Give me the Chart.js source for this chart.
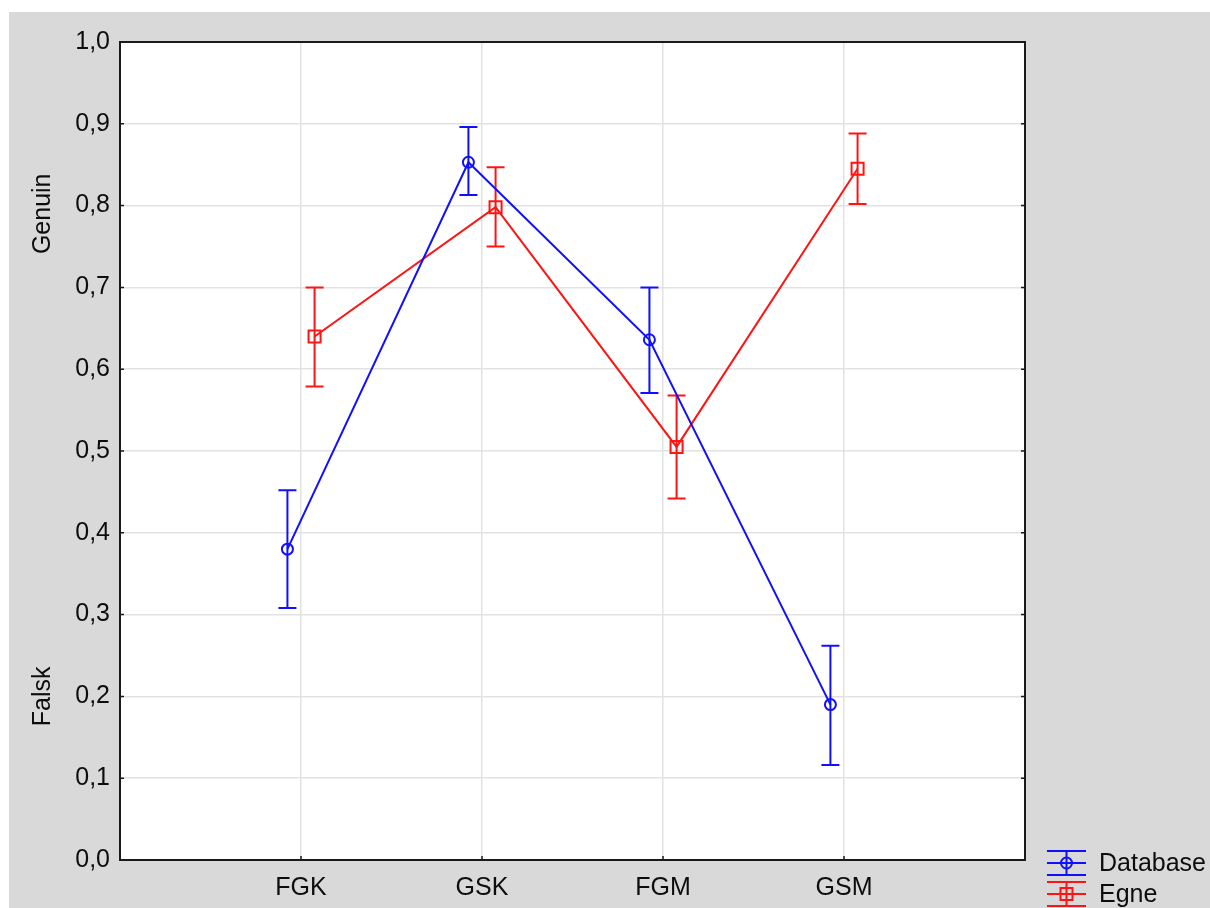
<!DOCTYPE html>
<html>
<head>
<meta charset="utf-8">
<script src="https://cdn.jsdelivr.net/npm/chart.js@4/dist/chart.umd.min.js"></script>
<style>
  html, body { margin: 0; padding: 0; background: #ffffff; }
  #wrap { position: absolute; left: 9px; top: 12px; width: 1201px; height: 896px; background: #d9d9d9; }
  canvas { display: block; }
</style>
</head>
<body>
<div id="wrap"><canvas id="c" width="1201" height="896"></canvas></div>
<script>
// Categories on the x axis
const categories = ['FGK', 'GSK', 'FGM', 'GSM'];

// Database series: means with lower / upper error limits
const databaseMean = [0.380, 0.853, 0.636, 0.190];
const databaseLow  = [0.308, 0.813, 0.571, 0.116];
const databaseHigh = [0.452, 0.896, 0.700, 0.262];

// Egne series: means with lower / upper error limits
const egneMean = [0.640, 0.798, 0.505, 0.845];
const egneLow  = [0.579, 0.750, 0.442, 0.802];
const egneHigh = [0.700, 0.847, 0.568, 0.888];

// Y tick labels (comma decimals)
const yTickLabels = ['0,0', '0,1', '0,2', '0,3', '0,4', '0,5', '0,6', '0,7', '0,8', '0,9', '1,0'];

// Side labels along the y axis: text and the value they sit beside
const sideLabels = ['Genuin', 'Falsk'];
const sideLabelValues = [0.79, 0.2];

const FONT = "'Liberation Sans', Arial, sans-serif";
const TEXT = '#0d0d0d';
const BLUE = '#1010ff';
const RED = '#ff1414';
const SHIFT = 0.075; // horizontal dodge of the two series within a category

function points(means, shift) {
  return means.map((v, i) => ({ x: i + 1 + shift, y: v }));
}

// White plot area behind the grid
const plotBackground = {
  id: 'plotBackground',
  beforeDraw(chart) {
    const a = chart.chartArea;
    const ctx = chart.ctx;
    ctx.save();
    ctx.fillStyle = '#ffffff';
    ctx.fillRect(a.left, a.top, a.right - a.left, a.bottom - a.top);
    ctx.restore();
  }
};

// Error bars, drawn under the markers
const errorBars = {
  id: 'errorBars',
  beforeDatasetsDraw(chart) {
    const ctx = chart.ctx;
    const xs = chart.scales.x, ys = chart.scales.y;
    chart.data.datasets.forEach(ds => {
      ctx.save();
      ctx.strokeStyle = ds.borderColor;
      ctx.lineWidth = 2;
      ds.data.forEach((p, i) => {
        const x = xs.getPixelForValue(p.x);
        const yl = ys.getPixelForValue(ds.errLow[i]);
        const yh = ys.getPixelForValue(ds.errHigh[i]);
        ctx.beginPath();
        ctx.moveTo(x, yl); ctx.lineTo(x, yh);
        ctx.moveTo(x - 9, yl); ctx.lineTo(x + 9, yl);
        ctx.moveTo(x - 9, yh); ctx.lineTo(x + 9, yh);
        ctx.stroke();
      });
      ctx.restore();
    });
  }
};

// Plot frame, inner tick marks, side labels and legend
const decorations = {
  id: 'decorations',
  beforeDatasetsDraw(chart) {
    const ctx = chart.ctx;
    const a = chart.chartArea;
    const xs = chart.scales.x, ys = chart.scales.y;
    ctx.save();
    ctx.strokeStyle = '#1a1a1a';
    ctx.lineWidth = 1.5;
    ys.ticks.forEach(t => {
      const y = ys.getPixelForValue(t.value);
      ctx.beginPath();
      ctx.moveTo(a.left, y); ctx.lineTo(a.left + 4, y);
      ctx.moveTo(a.right, y); ctx.lineTo(a.right - 4, y);
      ctx.stroke();
    });
    categories.forEach((c, i) => {
      const x = xs.getPixelForValue(i + 1);
      ctx.beginPath();
      ctx.moveTo(x, a.bottom); ctx.lineTo(x, a.bottom - 4);
      ctx.stroke();
    });
    ctx.lineWidth = 2;
    ctx.strokeRect(a.left, a.top, a.right - a.left, a.bottom - a.top);
    ctx.restore();
  },
  afterDraw(chart) {
    const ctx = chart.ctx;
    const ys = chart.scales.y;
    ctx.save();
    ctx.fillStyle = TEXT;
    ctx.font = '25px ' + FONT;
    ctx.textAlign = 'center';
    ctx.textBaseline = 'middle';
    sideLabels.forEach((txt, i) => {
      ctx.save();
      ctx.translate(34, ys.getPixelForValue(sideLabelValues[i]));
      ctx.rotate(-Math.PI / 2);
      ctx.fillText(txt, 0, 0);
      ctx.restore();
    });

    // Legend
    const x0 = 1038, x1 = 1077, cx = (x0 + x1) / 2;
    chart.data.datasets.forEach((ds, i) => {
      const cy = 851 + i * 31;
      ctx.strokeStyle = ds.borderColor;
      ctx.lineWidth = 2;
      ctx.beginPath();
      ctx.moveTo(x0, cy - 12); ctx.lineTo(x1, cy - 12);
      ctx.moveTo(x0, cy); ctx.lineTo(x1, cy);
      ctx.moveTo(x0, cy + 12); ctx.lineTo(x1, cy + 12);
      ctx.moveTo(cx, cy - 12); ctx.lineTo(cx, cy + 12);
      ctx.stroke();
      ctx.beginPath();
      if (ds.pointStyle === 'rect') {
        ctx.rect(cx - 6, cy - 6, 12, 12);
      } else {
        ctx.arc(cx, cy, 5.5, 0, Math.PI * 2);
      }
      ctx.stroke();
      ctx.fillStyle = TEXT;
      ctx.textAlign = 'left';
      ctx.fillText(ds.label, 1090, cy + 1);
    });
    ctx.restore();
  }
};

new Chart(document.getElementById('c'), {
  type: 'line',
  data: {
    datasets: [
      {
        label: 'Database',
        data: points(databaseMean, -SHIFT),
        errLow: databaseLow,
        errHigh: databaseHigh,
        borderColor: BLUE,
        backgroundColor: 'rgba(0,0,0,0)',
        borderWidth: 2,
        pointStyle: 'circle',
        pointRadius: 5.5,
        pointBorderWidth: 2,
        pointBackgroundColor: 'rgba(0,0,0,0)',
        tension: 0
      },
      {
        label: 'Egne',
        data: points(egneMean, SHIFT),
        errLow: egneLow,
        errHigh: egneHigh,
        borderColor: RED,
        backgroundColor: 'rgba(0,0,0,0)',
        borderWidth: 2,
        pointStyle: 'rect',
        pointRadius: 8.5,
        pointBorderWidth: 2,
        pointBackgroundColor: 'rgba(0,0,0,0)',
        tension: 0
      }
    ]
  },
  options: {
    responsive: false,
    animation: false,
    devicePixelRatio: 1,
    layout: { padding: { top: 30, right: 185, left: 0, bottom: 0 } },
    plugins: { legend: { display: false }, tooltip: { enabled: false } },
    scales: {
      x: {
        type: 'linear',
        min: 0,
        max: 5,
        afterFit(scale) { scale.height = 48; },
        ticks: {
          stepSize: 1,
          autoSkip: false,
          maxRotation: 0,
          padding: 13,
          color: TEXT,
          font: { family: FONT, size: 25 },
          callback: (v) => categories[v - 1] || ''
        },
        grid: { color: '#e2e2e2', lineWidth: 1.5, drawTicks: false },
        border: { display: false }
      },
      y: {
        min: 0,
        max: 1,
        afterFit(scale) { scale.width = 111; },
        ticks: {
          stepSize: 0.1,
          padding: 10,
          color: TEXT,
          font: { family: FONT, size: 25 },
          callback: (v, i) => yTickLabels[i]
        },
        grid: { color: '#e2e2e2', lineWidth: 1.5, drawTicks: false },
        border: { display: false }
      }
    }
  },
  plugins: [plotBackground, errorBars, decorations]
});
</script>
</body>
</html>
